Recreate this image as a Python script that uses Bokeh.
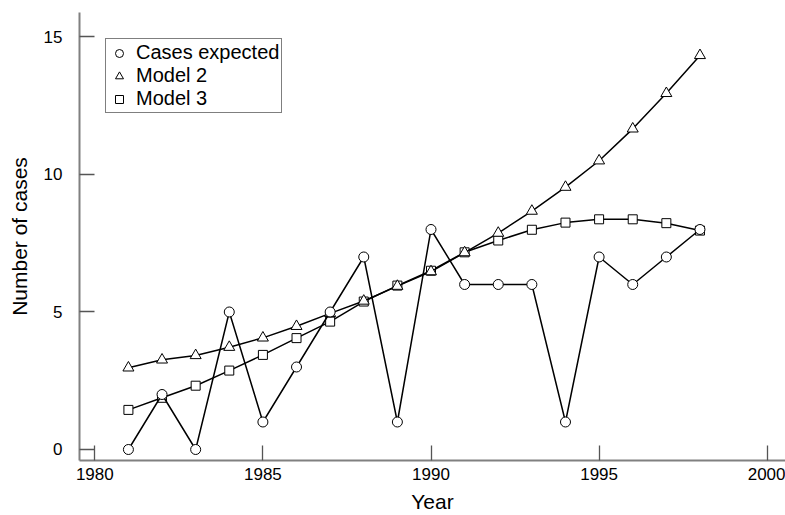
from bokeh.plotting import figure
from bokeh.models import Range1d, FixedTicker, Legend, LegendItem
from bokeh.embed import file_html
from bokeh.resources import INLINE

years = list(range(1981, 1999))
cases_expected = [0, 2, 0, 5, 1, 3, 5, 7, 1, 8, 6, 6, 6, 1, 7, 6, 7, 8]
model2 = [2.97, 3.26, 3.42, 3.72, 4.06, 4.48, 4.95, 5.40, 5.94, 6.47, 7.16, 7.87,
          8.67, 9.54, 10.50, 11.66, 12.95, 14.33]
model3 = [1.44, 1.88, 2.32, 2.87, 3.44, 4.05, 4.65, 5.38, 5.96, 6.50, 7.17, 7.60,
          7.99, 8.25, 8.37, 8.37, 8.23, 7.96]
x_ticks = [1980, 1985, 1990, 1995, 2000]
y_ticks = [0, 5, 10, 15]

FONT = "Liberation Sans"

p = figure(width=785, height=515, output_backend="svg", toolbar_location=None,
           x_range=Range1d(1979.545, 2000.544), y_range=Range1d(-0.40, 15.89),
           min_border_left=79, min_border_right=0, min_border_top=12, min_border_bottom=50)
p.outline_line_color = None
p.grid.visible = False
p.background_fill_color = "white"

for ax in (p.xaxis[0], p.yaxis[0]):
    ax.axis_line_color = "#808080"
    ax.axis_line_width = 2
    ax.major_tick_line_color = "#555555"
    ax.major_tick_line_width = 1.3
    ax.major_tick_in = 15
    ax.major_tick_out = 0
    ax.minor_tick_line_color = None
    ax.major_label_text_font = FONT
    ax.major_label_text_font_size = "17px"
    ax.major_label_text_color = "black"
    ax.axis_label_text_font = FONT
    ax.axis_label_text_font_size = "21px"
    ax.axis_label_text_font_style = "normal"
    ax.axis_label_text_color = "black"

p.xaxis.ticker = FixedTicker(ticks=x_ticks)
p.yaxis.ticker = FixedTicker(ticks=y_ticks)
p.xaxis.axis_label = "Year"
p.yaxis.axis_label = "Number of cases"
p.xaxis.major_label_standoff = 7
p.xaxis.axis_label_standoff = 7
p.yaxis.major_label_standoff = 17
p.yaxis.axis_label_standoff = 10

# Model 3
p.line(years, model3, line_color="black", line_width=1.5)
r3 = p.scatter(years, model3, marker="square", size=9, fill_color="white",
               line_color="black", line_width=1)
# Model 2
p.line(years, model2, line_color="black", line_width=1.5)
r2 = p.scatter(years, model2, marker="triangle", size=11, fill_color="white",
               line_color="black", line_width=1)
# Cases expected
p.line(years, cases_expected, line_color="black", line_width=1.5)
r1 = p.scatter(years, cases_expected, marker="circle", size=10, fill_color="white",
               line_color="black", line_width=1)

legend = Legend(items=[LegendItem(label="Cases expected", renderers=[r1]),
                       LegendItem(label="Model 2", renderers=[r2]),
                       LegendItem(label="Model 3", renderers=[r3])],
                location="top_left")
legend.margin = 26
legend.padding = 2
legend.spacing = 0
legend.glyph_height = 20
legend.glyph_width = 22
legend.label_height = 20
legend.label_standoff = 6
legend.label_text_font = FONT
legend.label_text_font_size = "20px"
legend.label_text_color = "black"
legend.border_line_color = "black"
legend.border_line_width = 1
legend.background_fill_alpha = 1
legend.background_fill_color = "white"
p.add_layout(legend)

open("out.html", "w").write(file_html(p, INLINE))
